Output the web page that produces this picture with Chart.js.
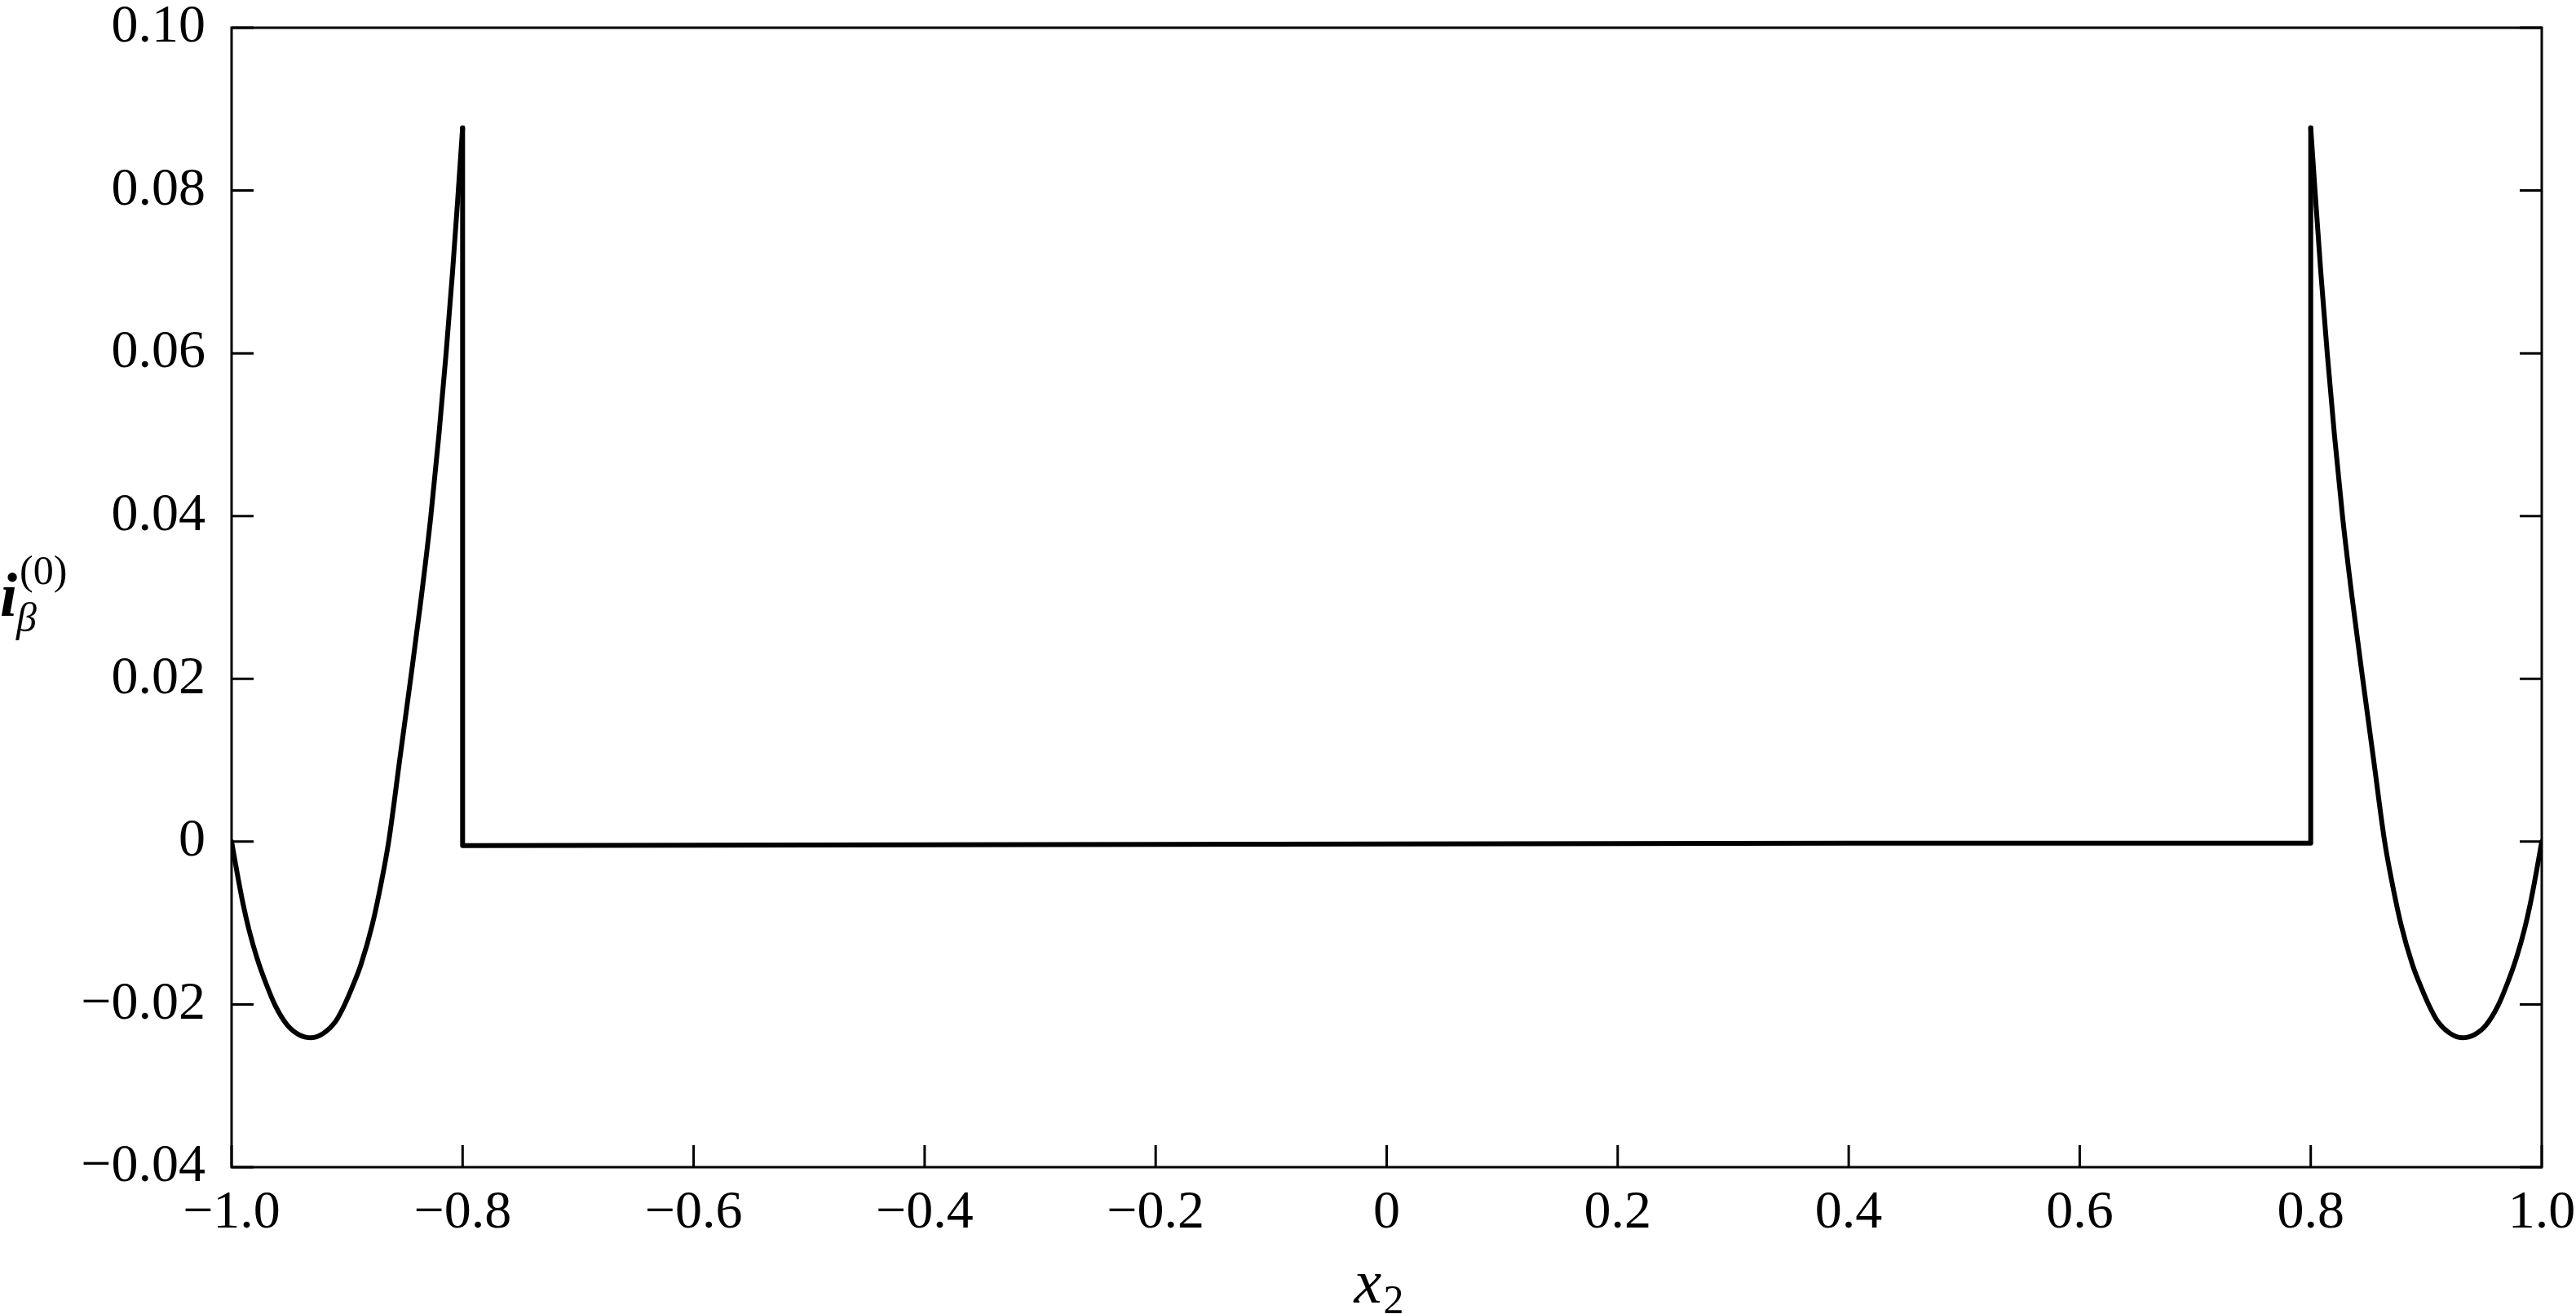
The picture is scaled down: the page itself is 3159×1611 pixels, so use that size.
<!DOCTYPE html>
<html>
<head>
<meta charset="utf-8">
<script src="https://cdn.jsdelivr.net/npm/chart.js@4.4.1/dist/chart.umd.min.js"></script>
<style>
  html, body { margin: 0; padding: 0; background: #fff; }
  canvas { display: block; }
</style>
</head>
<body>
<canvas id="plot" width="3159" height="1611"></canvas>
<script>
// Values
const leftX = [-1.0, -0.995, -0.990, -0.985, -0.978, -0.970, -0.962, -0.952, -0.942, -0.931, -0.920, -0.910, -0.902, -0.895,
    -0.888, -0.878, -0.8705, -0.864, -0.8545, -0.8450, -0.8358, -0.8275, -0.8205, -0.8143, -0.8087, -0.8037, -0.800];
const leftY = [0, -0.0040, -0.0077, -0.0108, -0.0143, -0.0175, -0.0202, -0.0225, -0.0237, -0.0241, -0.0235, -0.0221, -0.0200, -0.0177,
    -0.0151, -0.0101, -0.0051, 0, 0.010, 0.020, 0.030, 0.040, 0.050, 0.060, 0.070, 0.080, 0.0877];

// vertical drop at -0.8, almost flat middle part, vertical rise at 0.8
const stepX = [-0.800, -0.800, -0.400, 0.000, 0.400, 0.800, 0.800];
const stepY = [0.0877, -0.0005, -0.0004, -0.0003, -0.0002, -0.0002, 0.0877];

const rightX = [0.800, 0.8037, 0.8087, 0.8143, 0.8205, 0.8275, 0.8358, 0.8450, 0.8545, 0.864, 0.8705, 0.878, 0.888,
    0.895, 0.902, 0.910, 0.920, 0.931, 0.942, 0.952, 0.962, 0.970, 0.978, 0.985, 0.990, 0.995, 1.0];
const rightY = [0.0877, 0.080, 0.070, 0.060, 0.050, 0.040, 0.030, 0.020, 0.010, 0, -0.0051, -0.0101, -0.0151,
    -0.0177, -0.0200, -0.0221, -0.0235, -0.0241, -0.0237, -0.0225, -0.0202, -0.0175, -0.0143, -0.0108, -0.0077, -0.0040, 0];

const xTicks = [-1.0, -0.8, -0.6, -0.4, -0.2, 0, 0.2, 0.4, 0.6, 0.8, 1.0];
const yTicks = [-0.04, -0.02, 0, 0.02, 0.04, 0.06, 0.08, 0.10];

const SERIF = "'Liberation Serif', 'Times New Roman', serif";

function toPoints(xs, ys) {
    return xs.map((x, i) => ({ x: x, y: ys[i] }));
}

function fmt(v, digits) {
    if (Math.abs(v) < 1e-9) return '0';
    const s = Math.abs(v).toFixed(digits);
    return v < 0 ? '\u2212' + s : s;
}

function lineSet(xs, ys, smooth) {
    return {
        data: toPoints(xs, ys),
        showLine: true,
        borderColor: '#000',
        borderWidth: 6,
        borderCapStyle: 'round',
        borderJoinStyle: 'round',
        pointRadius: 0,
        fill: false,
        tension: 0,
        cubicInterpolationMode: smooth ? 'monotone' : 'default'
    };
}

// frame + inward tick marks + axis titles
const framePlugin = {
    id: 'frame',
    afterDraw(chart) {
        const ctx = chart.ctx;
        const a = chart.chartArea;
        const xs = chart.scales.x;
        const ys = chart.scales.y;
        const tl = 27;
        ctx.save();
        ctx.strokeStyle = '#000';
        ctx.lineWidth = 3;
        ctx.strokeRect(a.left, a.top, a.right - a.left, a.bottom - a.top);
        ctx.beginPath();
        xTicks.forEach(v => {
            const px = xs.getPixelForValue(v);
            ctx.moveTo(px, a.bottom);
            ctx.lineTo(px, a.bottom - tl);
        });
        yTicks.forEach(v => {
            const py = ys.getPixelForValue(v);
            ctx.moveTo(a.left, py);
            ctx.lineTo(a.left + tl, py);
            ctx.moveTo(a.right, py);
            ctx.lineTo(a.right - tl, py);
        });
        ctx.stroke();

        ctx.fillStyle = '#000';
        ctx.textBaseline = 'alphabetic';
        ctx.textAlign = 'left';
        // y title: i_beta^(0)
        ctx.font = 'italic bold 76px ' + SERIF;
        ctx.fillText('i', 0, 755);
        ctx.font = 'italic 50px ' + SERIF;
        ctx.fillText('\u03B2', 20, 774);
        ctx.font = '50px ' + SERIF;
        ctx.fillText('(0)', 24, 716);
        // x title: x_2
        const cx = (a.left + a.right) / 2;
        ctx.font = 'italic 76px ' + SERIF;
        ctx.fillText('x', cx - 40, 1597);
        ctx.font = '50px ' + SERIF;
        ctx.fillText('2', cx - 4, 1610);
        ctx.restore();
    }
};

new Chart(document.getElementById('plot').getContext('2d'), {
    type: 'scatter',
    data: {
        datasets: [
            lineSet(leftX, leftY, true),
            lineSet(stepX, stepY, false),
            lineSet(rightX, rightY, true)
        ]
    },
    options: {
        responsive: false,
        devicePixelRatio: 1,
        animation: false,
        layout: { padding: { left: 0, right: 42, top: 34, bottom: 0 } },
        plugins: {
            legend: { display: false },
            tooltip: { enabled: false }
        },
        scales: {
            x: {
                type: 'linear',
                min: -1,
                max: 1,
                afterBuildTicks: s => { s.ticks = xTicks.map(v => ({ value: v })); },
                afterFit: s => { s.height = 180; s.paddingLeft = 0; s.paddingRight = 0; },
                grid: { display: false, drawTicks: false },
                border: { display: false },
                ticks: {
                    padding: 17,
                    color: '#000',
                    maxRotation: 0,
                    autoSkip: false,
                    font: { family: SERIF, size: 66 },
                    callback: v => fmt(v, 1)
                }
            },
            y: {
                type: 'linear',
                min: -0.04,
                max: 0.10,
                afterBuildTicks: s => { s.ticks = yTicks.map(v => ({ value: v })); },
                afterFit: s => { s.width = 284; s.paddingTop = 0; s.paddingBottom = 0; },
                grid: { display: false, drawTicks: false },
                border: { display: false },
                ticks: {
                    padding: 32,
                    color: '#000',
                    autoSkip: false,
                    font: { family: SERIF, size: 66 },
                    callback: v => fmt(v, 2)
                }
            }
        }
    },
    plugins: [framePlugin]
});
</script>
</body>
</html>
